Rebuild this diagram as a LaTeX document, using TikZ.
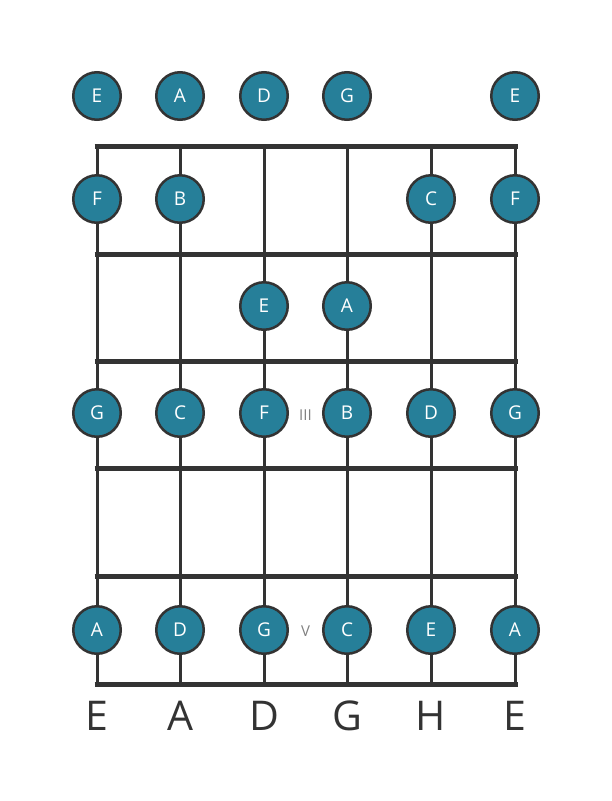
\documentclass[tikz,border=0pt]{standalone}
\usepackage{fontspec}
\setmainfont{Open Sans}
\definecolor{notefill}{RGB}{38,127,153}
\definecolor{wire}{RGB}{51,51,51}
\begin{document}
\begin{tikzpicture}[x=1pt,y=-1pt,
    note/.style={circle,draw=wire,line width=2.5pt,fill=notefill,minimum size=47.5pt,inner sep=0pt,text=white,font=\fontsize{19}{19}\selectfont},
    fret/.style={wire,line width=5pt},
    string/.style={wire,line width=3pt},
    posmark/.style={text=gray,font=\fontsize{15}{15}\selectfont},
    tuning/.style={text=wire,font=\fontsize{41}{41}\selectfont}]
  \useasboundingbox (0,0) rectangle (611,801);
  % strings and frets
  \foreach \x in {97,180,264,347,431,515}
    \draw[string] (\x,146) -- (\x,684);
  \foreach \y in {146,254,361,468,576,684}
    \draw[fret] (94.5,\y) -- (517.5,\y);
  % open strings
  \node[note] (o1) at (97,96) {E};
  \node[note] (o2) at (180,96) {A};
  \node[note] (o3) at (264,96) {D};
  \node[note] (o4) at (347,96) {G};
  \node[note] (o6) at (515,96) {E};
  % fret 1
  \node[note] (a1) at (97,199) {F};
  \node[note] (a2) at (180,199) {B};
  \node[note] (a5) at (431,199) {C};
  \node[note] (a6) at (515,199) {F};
  % fret 2
  \node[note] (b3) at (264,306) {E};
  \node[note] (b4) at (347,306) {A};
  % fret 3
  \node[note] (c1) at (97,413) {G};
  \node[note] (c2) at (180,413) {C};
  \node[note] (c3) at (264,413) {F};
  \node[note] (c4) at (347,413) {B};
  \node[note] (c5) at (431,413) {D};
  \node[note] (c6) at (515,413) {G};
  \node[posmark] (m3) at (305.5,415) {III};
  % fret 5
  \node[note] (e1) at (97,630) {A};
  \node[note] (e2) at (180,630) {D};
  \node[note] (e3) at (264,630) {G};
  \node[note] (e4) at (347,630) {C};
  \node[note] (e5) at (431,630) {E};
  \node[note] (e6) at (515,630) {A};
  \node[posmark] (m5) at (305.5,631) {V};
  % tuning
  \node[tuning] (t1) at (97,716) {E};
  \node[tuning] (t2) at (180,716) {A};
  \node[tuning] (t3) at (264,716) {D};
  \node[tuning] (t4) at (347,716) {G};
  \node[tuning] (t5) at (431,716) {H};
  \node[tuning] (t6) at (515,716) {E};
\end{tikzpicture}
\end{document}
